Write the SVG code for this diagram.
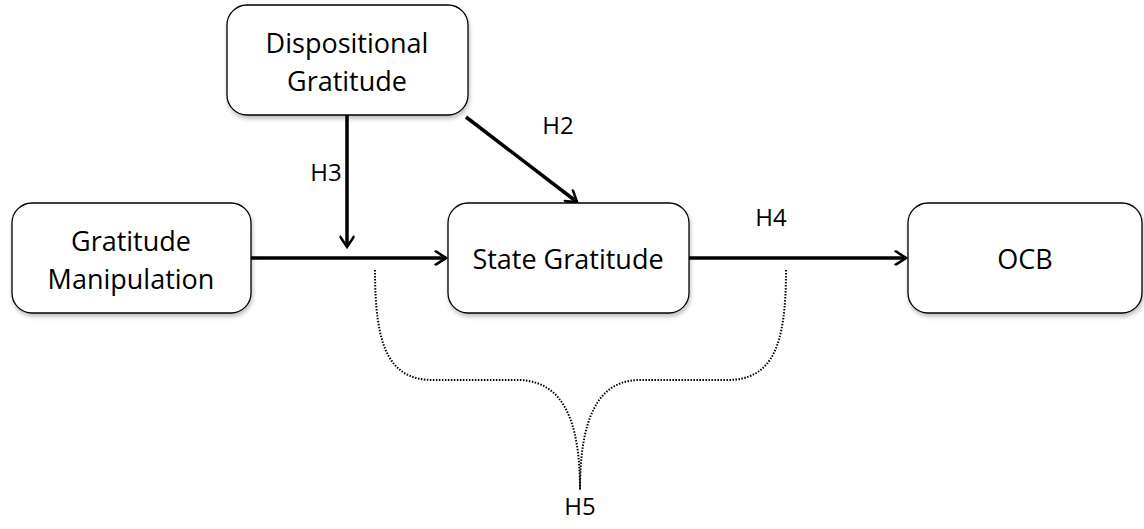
<svg xmlns="http://www.w3.org/2000/svg" width="1144" height="529" viewBox="0 0 1144 529">
<style>
.box{fill:#fff;stroke:#000;stroke-width:1.3}
.t{font-family:"Open Sans","Liberation Sans",sans-serif;font-size:27px;fill:#000;text-anchor:middle}
.lbl{font-family:"Open Sans","Liberation Sans",sans-serif;font-size:24px;fill:#000;text-anchor:middle}
.arr{stroke:#000;stroke-width:3.5;fill:none;marker-end:url(#ah)}
.dot{stroke:#000;stroke-width:2;fill:none;stroke-dasharray:1.5 1.5}
</style>
<defs>
<marker id="ah" markerWidth="8" markerHeight="10" refX="6" refY="5" orient="auto" markerUnits="userSpaceOnUse" overflow="visible">
<path d="M-4,-6 L6,5 L-4,16" fill="none" stroke="#000" stroke-width="3.5" stroke-linecap="round" stroke-linejoin="round" transform="scale(1,0.6) translate(0,3.3)"/>
</marker>
<filter id="sh" x="-10%" y="-10%" width="120%" height="130%">
<feDropShadow dx="1" dy="3" stdDeviation="2" flood-color="#000" flood-opacity="0.25"/>
</filter>
</defs>
<g id="connectors">
<path class="arr" d="M347,115 L347,247"/>
<path class="arr" d="M466,117 L577,202"/>
<path class="arr" d="M251,258 L446,258"/>
<path class="arr" d="M689,258 L906,258"/>
<path class="dot" d="M375,270 C375,345 388,380 433,380 L520,380 C563,382 580,420 580,490"/>
<path class="dot" d="M786,270 C786,345 773,380 727,380 L637,380 C597,382 580,420 580,490"/>
<text class="lbl" x="326" y="181">H3</text>
<text class="lbl" x="558" y="134">H2</text>
<text class="lbl" x="771" y="226">H4</text>
<text class="lbl" x="580" y="515">H5</text>
</g>
<g id="n-dispositional">
<rect class="box" x="227" y="5" width="241" height="110" rx="20" filter="url(#sh)"/>
<text class="t" x="347" y="53">Dispositional</text>
<text class="t" x="347" y="91">Gratitude</text>
</g>
<g id="n-manipulation">
<rect class="box" x="12" y="203" width="239" height="110" rx="20" filter="url(#sh)"/>
<text class="t" x="131" y="251">Gratitude</text>
<text class="t" x="131" y="289">Manipulation</text>
</g>
<g id="n-state">
<rect class="box" x="448" y="203" width="241" height="110" rx="20" filter="url(#sh)"/>
<text class="t" x="568" y="269">State Gratitude</text>
</g>
<g id="n-ocb">
<rect class="box" x="908" y="203" width="234" height="110" rx="20" filter="url(#sh)"/>
<text class="t" x="1025" y="269">OCB</text>
</g>
</svg>
